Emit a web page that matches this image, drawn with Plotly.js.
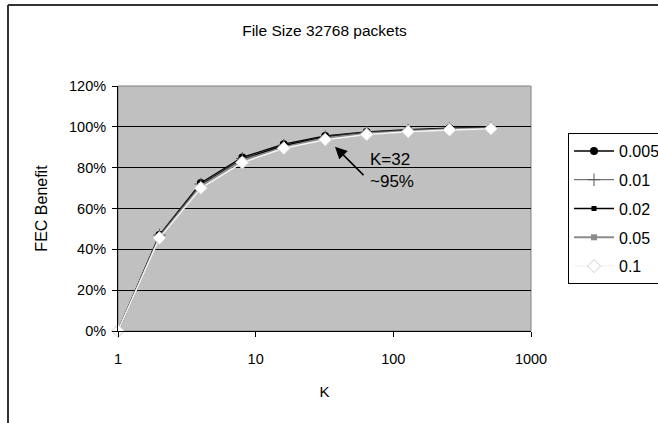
<!DOCTYPE html>
<html>
<head>
<meta charset="utf-8">
<script src="https://cdn.plot.ly/plotly-3.0.1.min.js"></script>
<style>
  html, body { margin: 0; padding: 0; background: #ffffff; }
  #chart { width: 658px; height: 423px; }
</style>
</head>
<body>
<div id="chart"></div>
<script>
// Block size K (log scale) and FEC benefit for each loss rate
var kValues = [1, 2, 4, 8, 16, 32, 64, 128, 256, 512];
var lossRates = ['0.005', '0.01', '0.02', '0.05', '0.1'];
var benefit005 = [0, 0.470, 0.725, 0.850, 0.915, 0.955, 0.975, 0.986, 0.993, 0.997];
var benefit01  = [0, 0.470, 0.720, 0.845, 0.910, 0.952, 0.973, 0.984, 0.991, 0.995];
var benefit02  = [0, 0.465, 0.715, 0.840, 0.907, 0.950, 0.970, 0.982, 0.990, 0.994];
var benefit05  = [0, 0.460, 0.710, 0.835, 0.900, 0.945, 0.967, 0.980, 0.988, 0.993];
var benefit1   = [0, 0.455, 0.700, 0.825, 0.895, 0.937, 0.962, 0.976, 0.984, 0.990];
var xTickVals = [1, 10, 100, 1000];
var xTickText = ['1', '10', '100', '1000'];

var FONT = 'Liberation Sans, Arial, sans-serif';

// plot area in pixels: x 118..531, y 86..331
var PX_L = 118, PX_W = 413, PX_B = 331, PX_H = 245;
function paperX(px) { return (px - PX_L) / PX_W; }
function paperY(py) { return (PX_B - py) / PX_H; }

function series(name, y, lineColor, lineWidth, marker) {
  return {
    x: kValues, y: y, name: name, type: 'scatter', mode: 'lines+markers',
    legendgroup: name,
    cliponaxis: false,
    line: {color: lineColor, width: lineWidth},
    marker: marker,
    hoverinfo: 'x+y+name'
  };
}

var traces = [
  series(lossRates[0], benefit005, '#000000', 1.5,
    {symbol: 'circle', size: 8, color: '#000000'}),
  series(lossRates[1], benefit01, '#555555', 1,
    {symbol: 'cross-thin', size: 9, color: '#555555', line: {color: '#555555', width: 1}}),
  series(lossRates[2], benefit02, '#000000', 1.5,
    {symbol: 'square', size: 5, color: '#000000'}),
  series(lossRates[3], benefit05, '#8c8c8c', 2,
    {symbol: 'square', size: 6, color: '#8c8c8c'}),
  series(lossRates[4], benefit1, '#f4f4f4', 1.5,
    {symbol: 'diamond', size: 10, color: '#ffffff', line: {color: '#cfcfcf', width: 1}})
];

var layout = {
  width: 658, height: 423,
  margin: {l: 118, r: 127, t: 86, b: 92, autoexpand: false},
  paper_bgcolor: '#ffffff',
  plot_bgcolor: '#c0c0c0',
  font: {family: FONT, size: 14.5, color: '#000000'},
  title: {
    text: 'File Size 32768 packets',
    font: {family: FONT, size: 15.5, color: '#000000'},
    x: 0.5, xref: 'paper', xanchor: 'center',
    y: 1 - 31 / 423, yref: 'container', yanchor: 'middle'
  },
  xaxis: {
    type: 'log',
    range: [0, 3],
    tickvals: xTickVals, ticktext: xTickText,
    ticks: 'outside', ticklen: 5, tickcolor: '#000000', tickwidth: 1,
    ticklabelstandoff: 10,
    showgrid: false, zeroline: false,
    showline: true, linecolor: '#000000', linewidth: 1,
    tickfont: {family: FONT, size: 14.5, color: '#000000'},
    title: {text: 'K', font: {family: FONT, size: 15, color: '#000000'}, standoff: 20}
  },
  yaxis: {
    range: [0, 1.2],
    dtick: 0.2, tick0: 0,
    tickformat: '.0%',
    ticks: 'outside', ticklen: 5, tickcolor: '#000000', tickwidth: 1,
    ticklabelstandoff: 3,
    showgrid: true, gridcolor: '#000000', gridwidth: 1,
    zeroline: false,
    showline: true, linecolor: '#000000', linewidth: 1,
    tickfont: {family: FONT, size: 14.5, color: '#000000'},
    title: {text: 'FEC Benefit', font: {family: FONT, size: 16, color: '#000000'}, standoff: 17}
  },
  legend: {
    x: paperX(568), xanchor: 'left',
    y: paperY(133), yanchor: 'top',
    bgcolor: '#ffffff', bordercolor: '#000000', borderwidth: 1,
    font: {family: FONT, size: 16, color: '#000000'},
    traceorder: 'grouped',
    tracegroupgap: 5,
    itemwidth: 40
  },
  shapes: [
    // plot-area frame (top and right)
    {type: 'rect', xref: 'paper', yref: 'paper', x0: 0, x1: 1, y0: 0, y1: 1,
     line: {color: '#808080', width: 1}, fillcolor: 'rgba(0,0,0,0)', layer: 'below'},
    // outer chart frame: top edge and left edge
    {type: 'line', xref: 'paper', yref: 'paper',
     x0: paperX(8), x1: paperX(700), y0: paperY(5), y1: paperY(5),
     line: {color: '#333333', width: 2}},
    {type: 'line', xref: 'paper', yref: 'paper',
     x0: paperX(8), x1: paperX(8), y0: paperY(5), y1: paperY(450),
     line: {color: '#333333', width: 2}}
  ],
  annotations: [
    {x: Math.log10(37.7), y: 0.903, xref: 'x', yref: 'y',
     text: '', showarrow: true, arrowhead: 2, arrowsize: 1.6, arrowwidth: 1.5,
     arrowcolor: '#000000', ax: 30, ay: 30, axref: 'pixel', ayref: 'pixel'},
    {x: Math.log10(65.5), y: 0.788, xref: 'x', yref: 'y',
     xanchor: 'left', yanchor: 'middle', align: 'left', showarrow: false,
     text: 'K=32<br>~95%', font: {family: FONT, size: 17, color: '#000000'}}
  ],
  showlegend: true
};

Plotly.newPlot('chart', traces, layout, {displayModeBar: false, staticPlot: true});
</script>
</body>
</html>
